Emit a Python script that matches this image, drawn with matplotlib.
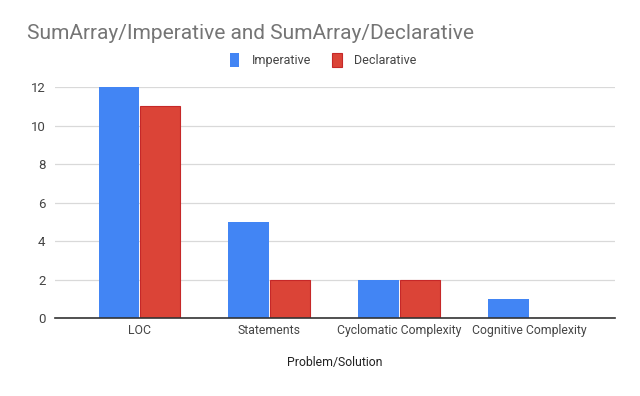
import matplotlib
matplotlib.use("Agg")
import matplotlib.pyplot as plt
import numpy as np

plt.rcParams['font.family'] = ['Roboto', 'DejaVu Sans']

categories = ["LOC", "Statements", "Cyclomatic Complexity", "Cognitive Complexity"]
imperative = [12, 5, 2, 1]
declarative = [11, 2, 2, 0]

fig = plt.figure(figsize=(6.4, 3.96), dpi=100)
ax = fig.add_axes([0.086, 0.197, 0.875, 0.583])

x = np.arange(len(categories))
w = 0.31
ax.bar(x - w / 2 - 0.005, imperative, w, color="#4285F4", label="Imperative", zorder=3)
ax.bar(x + w / 2 + 0.005, declarative, w, color="#DB4437", edgecolor="#c62828",
       linewidth=0.8, label="Declarative", zorder=3)

ax.set_xlim(-0.65, 3.66)
ax.set_ylim(0, 12)
ax.set_yticks(range(0, 13, 2))
ax.set_xticks(x)
ax.set_xticklabels(categories)
ax.grid(axis="y", color="#d9d9d9", linewidth=0.9, zorder=0)
for s in ["top", "right", "left"]:
    ax.spines[s].set_visible(False)
ax.spines["bottom"].set_color("#333333")
ax.spines["bottom"].set_linewidth(1.2)
ax.spines["bottom"].set_zorder(4)
ax.tick_params(axis="both", length=0, labelsize=8.8, labelcolor="#444444")
ax.tick_params(axis="y", labelsize=9.5, pad=7)
ax.tick_params(axis="x", pad=4)
ax.set_xlabel("Problem/Solution", fontsize=8.8, color="#222222", labelpad=14)

fig.text(0.042, 0.915, "SumArray/Imperative and SumArray/Declarative",
         fontsize=15, color="#757575", va="center")
fig.legend(loc="center", bbox_to_anchor=(0.505, 0.848), ncol=2, frameon=False,
           fontsize=9, handlelength=0.75, handleheight=1.3, columnspacing=1.7,
           handletextpad=1.0, labelcolor="#444444")

fig.savefig("out.png", dpi=100)
